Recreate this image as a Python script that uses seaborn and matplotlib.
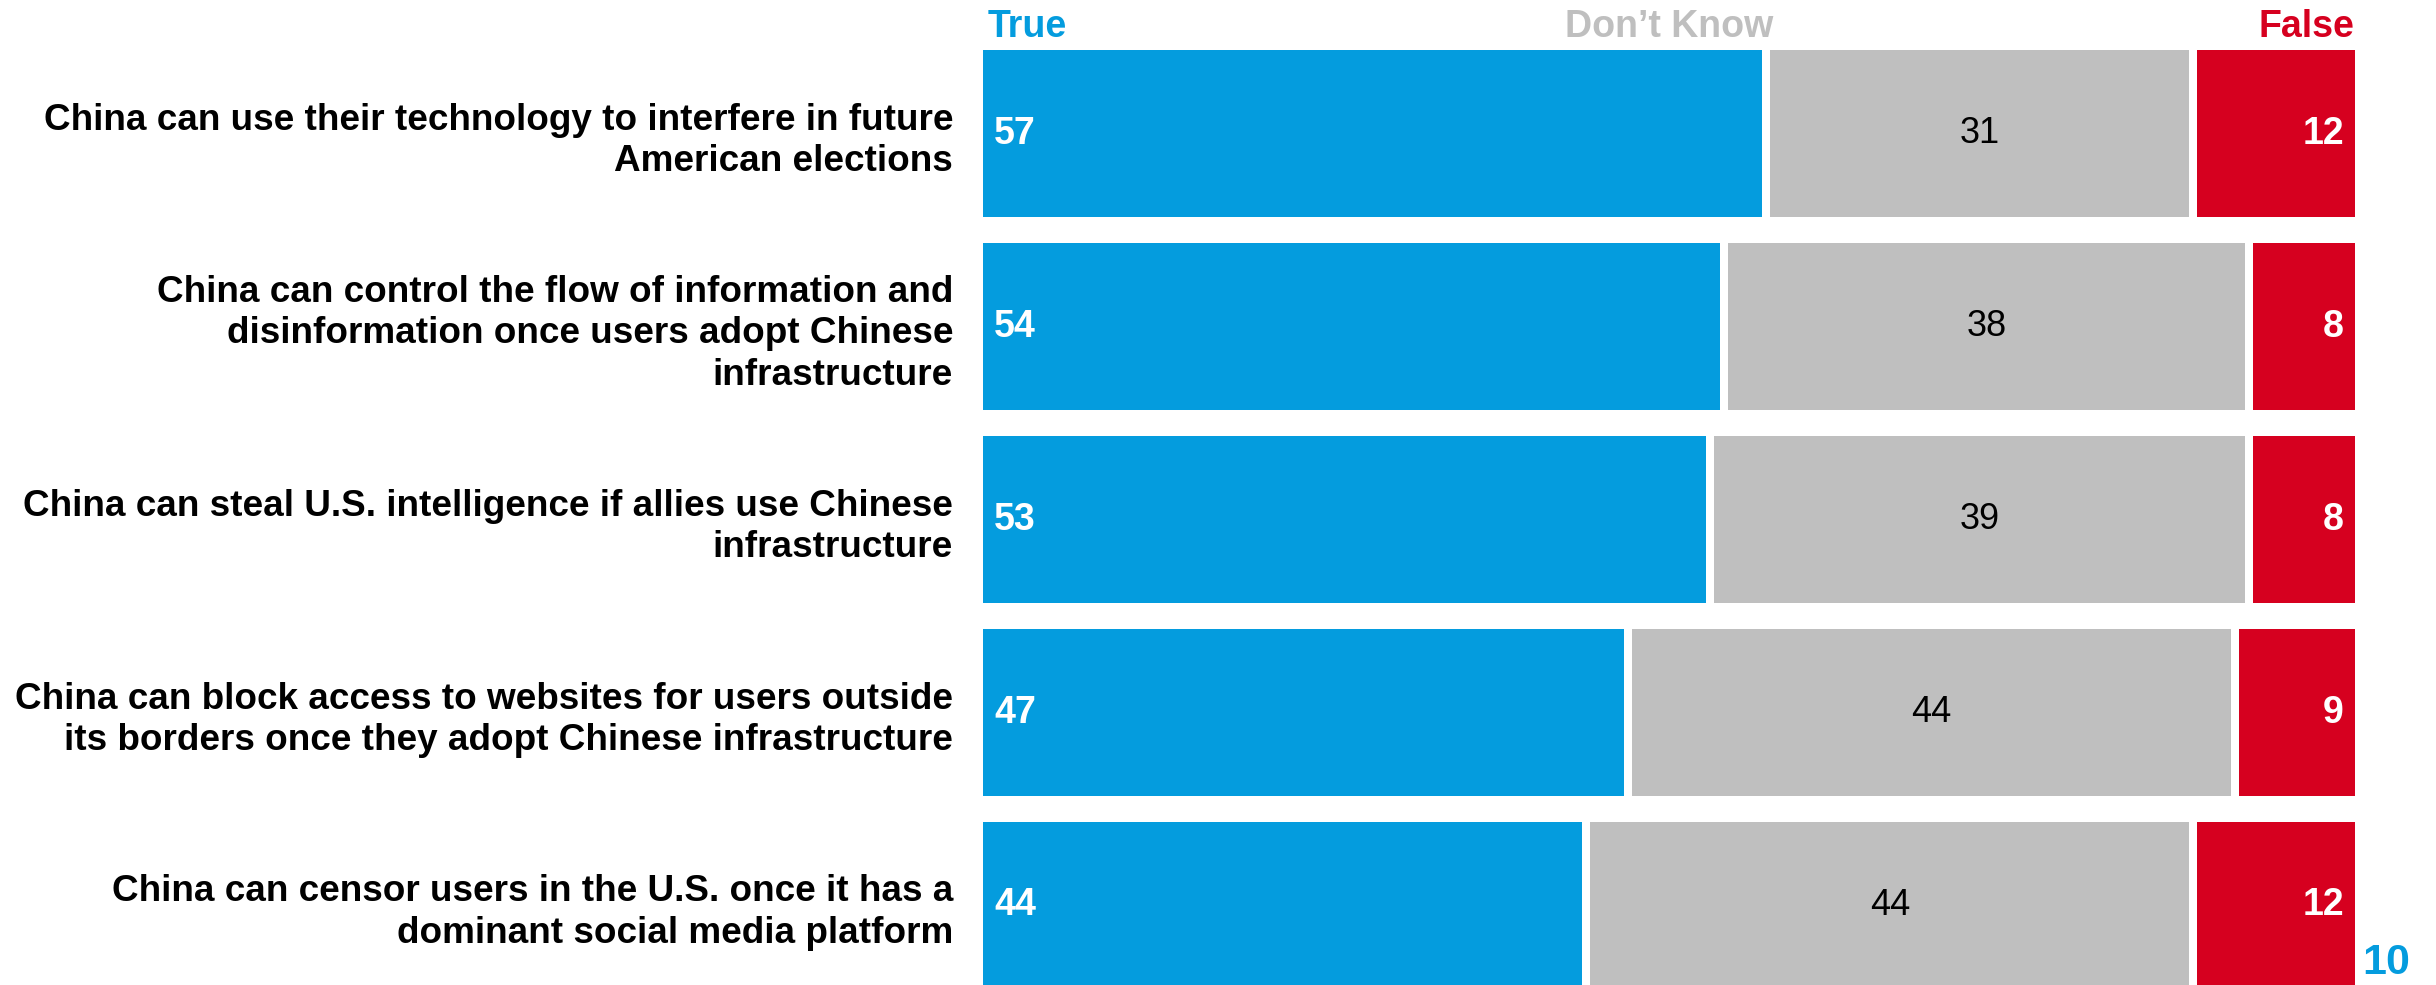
import numpy as np
import pandas as pd
import seaborn as sns
import matplotlib
matplotlib.use("Agg")
import matplotlib.pyplot as plt

sns.set_style("white")
plt.rcParams['font.family'] = ['Liberation Sans', 'DejaVu Sans']

# data
statements = [
    "China can use their technology to interfere in future\nAmerican elections",
    "China can control the flow of information and\ndisinformation once users adopt Chinese\ninfrastructure",
    "China can steal U.S. intelligence if allies use Chinese\ninfrastructure",
    "China can block access to websites for users outside\nits borders once they adopt Chinese infrastructure",
    "China can censor users in the U.S. once it has a\ndominant social media platform",
]
true_vals = [57, 54, 53, 47, 44]
dk_vals = [31, 38, 39, 44, 44]
false_vals = [12, 8, 8, 9, 12]
headers = ["True", "Don\u2019t Know", "False"]
page_no = "10"

blue = "#049CDE"
gray = "#BFBFBF"
red = "#D6001F"

df = pd.DataFrame({"statement": statements, "true": true_vals,
                   "dk": dk_vals, "false": false_vals})
df["cum_dk"] = df["true"] + df["dk"]
df["cum_all"] = df["cum_dk"] + df["false"]

W, H = 2436, 985
fig = plt.figure(figsize=(W / 100, H / 100), dpi=100)
ax = fig.add_axes([979 / W, 0, 1380 / W, 1])

gap_lw = 8 * 72 / 100  # white edge makes the gaps between segments
kw = dict(y="statement", orient="h", width=0.907, errorbar=None,
          edgecolor="white", linewidth=gap_lw, ax=ax)
sns.barplot(data=df, x="cum_all", color=red, saturation=1, **kw)
sns.barplot(data=df, x="cum_dk", color=gray, saturation=1, **kw)
sns.barplot(data=df, x="true", color=blue, saturation=1, **kw)

ax.set_xlim(0, 100)
ax.set_ylim(4.412, -0.692)
ax.set_xticks([])
ax.set_xlabel("")
ax.set_ylabel("")
sns.despine(ax=ax, left=True, bottom=True)
ax.tick_params(axis="y", length=0, pad=18.7)
for lbl in ax.get_yticklabels():
    lbl.set_fontsize(26.6)
    lbl.set_fontweight("bold")
    lbl.set_color("black")
    lbl.set_linespacing(1.24)

# segment values
for i, row in df.iterrows():
    ax.text(1.1, i, str(row["true"]), ha="left", va="center",
            color="white", fontsize=27, fontweight="bold")
    ax.text((row["true"] + row["cum_dk"]) / 2, i, str(row["dk"]),
            ha="center", va="center", color="black", fontsize=26)
    ax.text(98.9, i, str(row["false"]), ha="right", va="center",
            color="white", fontsize=27, fontweight="bold")

# column headers
hy = 1 - 37 / H
tr = ax.get_xaxis_transform()
ax.text(0.65, hy, headers[0], transform=tr, ha="left", va="baseline",
        color=blue, fontsize=27, fontweight="bold")
ax.text(50, hy, headers[1], transform=tr, ha="center", va="baseline",
        color=gray, fontsize=27, fontweight="bold")
ax.text(99.7, hy, headers[2], transform=tr, ha="right", va="baseline",
        color=red, fontsize=27, fontweight="bold")

fig.text(2386 / W, 1 - 963 / H, page_no, ha="center", va="center",
         color=blue, fontsize=31, fontweight="bold")

fig.savefig("out.png", dpi=100)
